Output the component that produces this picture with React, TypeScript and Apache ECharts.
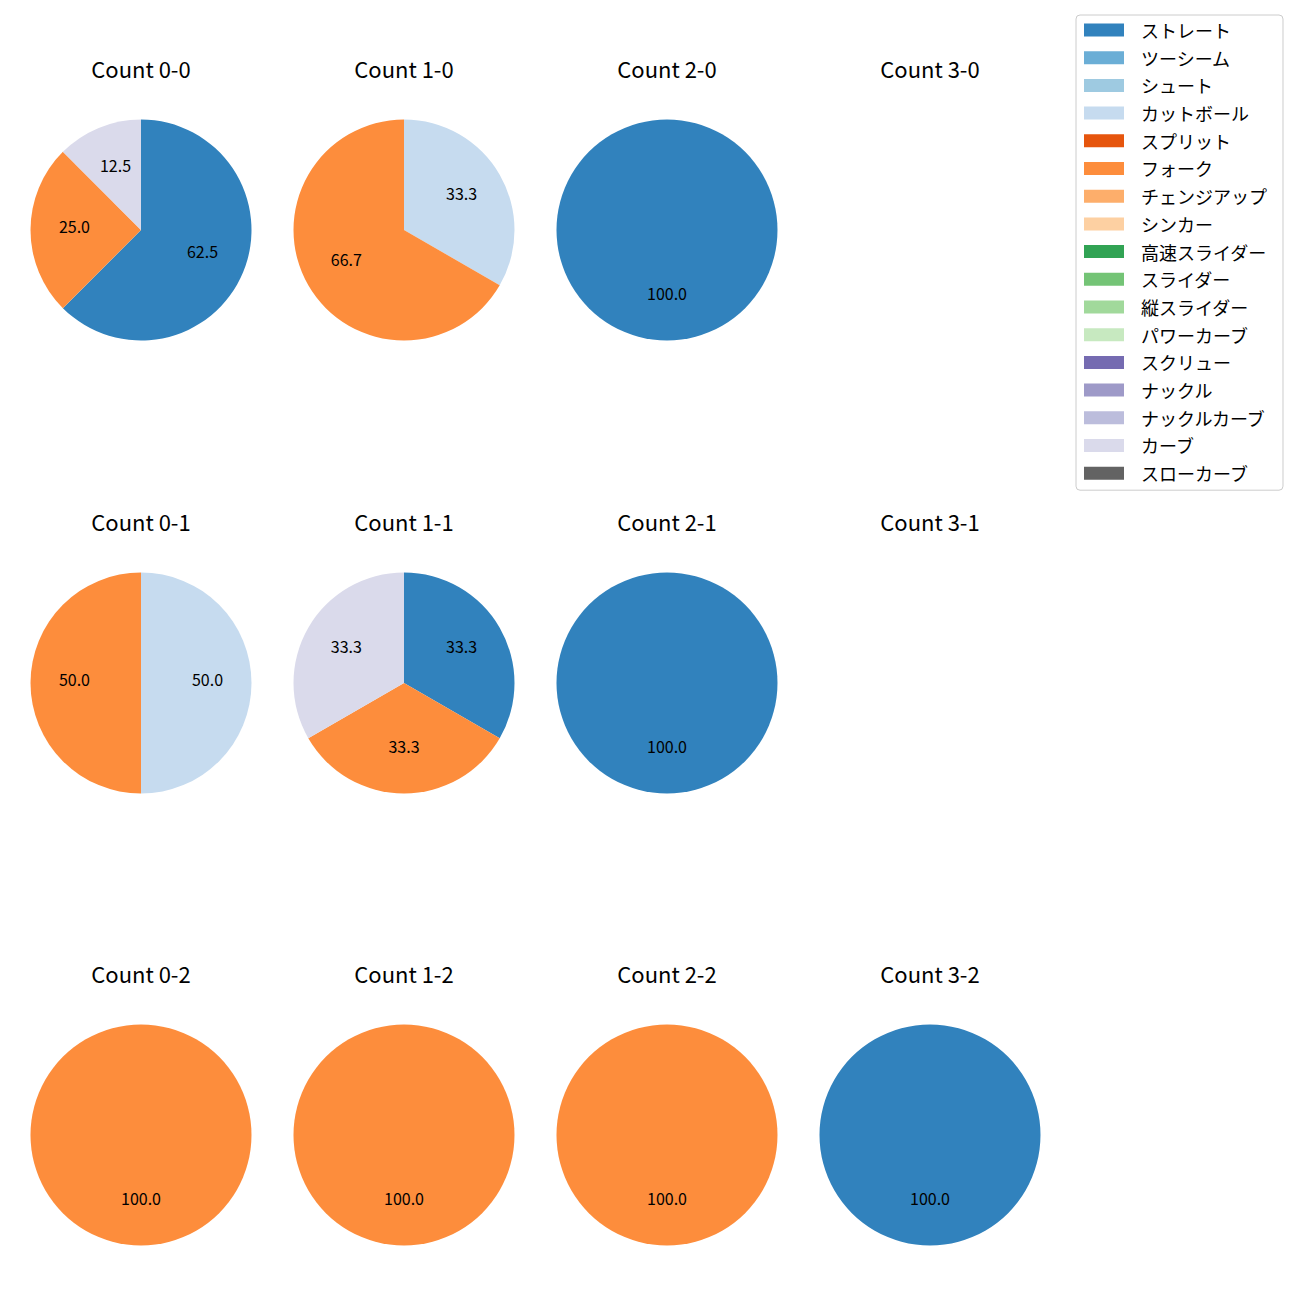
import React, { useEffect, useRef } from "react";
import * as echarts from "echarts";

const categories = [
  "ストレート", "ツーシーム", "シュート", "カットボール", "スプリット", "フォーク",
  "チェンジアップ", "シンカー", "高速スライダー", "スライダー", "縦スライダー",
  "パワーカーブ", "スクリュー", "ナックル", "ナックルカーブ", "カーブ", "スローカーブ",
];
const colors = [
  "#3182bd", "#6baed6", "#9ecae1", "#c6dbef", "#e6550d", "#fd8d3c",
  "#fdae6b", "#fdd0a2", "#31a354", "#74c476", "#a1d99b", "#c7e9c0",
  "#756bb1", "#9e9ac8", "#bcbddc", "#dadaeb", "#636363",
];

// counts per pitch category (order = categories)
const count00 = [5, 0, 0, 0, 0, 2, 0, 0, 0, 0, 0, 0, 0, 0, 0, 1, 0];
const count10 = [0, 0, 0, 1, 0, 2, 0, 0, 0, 0, 0, 0, 0, 0, 0, 0, 0];
const count20 = [1, 0, 0, 0, 0, 0, 0, 0, 0, 0, 0, 0, 0, 0, 0, 0, 0];
const count30 = [0, 0, 0, 0, 0, 0, 0, 0, 0, 0, 0, 0, 0, 0, 0, 0, 0];
const count01 = [0, 0, 0, 1, 0, 1, 0, 0, 0, 0, 0, 0, 0, 0, 0, 0, 0];
const count11 = [1, 0, 0, 0, 0, 1, 0, 0, 0, 0, 0, 0, 0, 0, 0, 1, 0];
const count21 = [1, 0, 0, 0, 0, 0, 0, 0, 0, 0, 0, 0, 0, 0, 0, 0, 0];
const count31 = [0, 0, 0, 0, 0, 0, 0, 0, 0, 0, 0, 0, 0, 0, 0, 0, 0];
const count02 = [0, 0, 0, 0, 0, 1, 0, 0, 0, 0, 0, 0, 0, 0, 0, 0, 0];
const count12 = [0, 0, 0, 0, 0, 1, 0, 0, 0, 0, 0, 0, 0, 0, 0, 0, 0];
const count22 = [0, 0, 0, 0, 0, 1, 0, 0, 0, 0, 0, 0, 0, 0, 0, 0, 0];
const count32 = [1, 0, 0, 0, 0, 0, 0, 0, 0, 0, 0, 0, 0, 0, 0, 0, 0];

const panels = [
  { title: "Count 0-0", data: count00, col: 0, row: 0 },
  { title: "Count 1-0", data: count10, col: 1, row: 0 },
  { title: "Count 2-0", data: count20, col: 2, row: 0 },
  { title: "Count 3-0", data: count30, col: 3, row: 0 },
  { title: "Count 0-1", data: count01, col: 0, row: 1 },
  { title: "Count 1-1", data: count11, col: 1, row: 1 },
  { title: "Count 2-1", data: count21, col: 2, row: 1 },
  { title: "Count 3-1", data: count31, col: 3, row: 1 },
  { title: "Count 0-2", data: count02, col: 0, row: 2 },
  { title: "Count 1-2", data: count12, col: 1, row: 2 },
  { title: "Count 2-2", data: count22, col: 2, row: 2 },
  { title: "Count 3-2", data: count32, col: 3, row: 2 },
];

const FONT = "'Noto Sans CJK JP', 'Noto Sans', sans-serif";
const colX = [141, 404, 667, 930];
const rowY = [230, 683, 1135];
const R = 110.5;

export default function App() {
  const ref = useRef<HTMLDivElement>(null);
  useEffect(() => {
    document.body.style.margin = "0";
    const chart = echarts.init(ref.current!, null, { renderer: "svg" });
    const series: any[] = [];
    // hidden series supplying legend entries/colours
    series.push({
      type: "pie",
      name: "legend",
      radius: [0, 0],
      center: [-100, -100],
      silent: true,
      label: { show: false },
      labelLine: { show: false },
      data: categories.map((c, i) => ({ name: c, value: 1, itemStyle: { color: colors[i] } })),
    });
    const titles: any[] = [];
    panels.forEach((p) => {
      const cx = colX[p.col];
      const cy = rowY[p.row];
      titles.push({
        text: p.title,
        left: cx,
        top: cy - R - 63,
        padding: 0,
        textAlign: "center",
        textStyle: { fontFamily: FONT, fontSize: 22, fontWeight: "normal", color: "#000" },
      });
      const items = p.data
        .map((v, i) => ({ name: categories[i], value: v, itemStyle: { color: colors[i] } }))
        .filter((d) => d.value > 0);
      if (!items.length) return;
      series.push({
        type: "pie",
        center: [cx, cy],
        radius: [0, R],
        startAngle: 90,
        clockwise: true,
        silent: true,
        label: { show: false },
        labelLine: { show: false },
        itemStyle: { borderWidth: 0 },
        emphasis: { disabled: true },
        data: items,
      });
      series.push({
        type: "pie",
        center: [cx, cy],
        radius: [R * 0.15, R],
        startAngle: 90,
        clockwise: true,
        silent: true,
        labelLine: { show: false },
        itemStyle: { color: "rgba(0,0,0,0)", borderWidth: 0 },
        emphasis: { disabled: true },
        label: {
          show: true,
          position: "inside",
          fontFamily: FONT,
          fontSize: 16,
          color: "#000",
          offset: [0, -4],
          formatter: (prm: any) => (prm.percent as number).toFixed(1),
        },
        data: items.map((d) => ({ name: d.name, value: d.value })),
      });
    });
    chart.setOption({
      animation: false,
      backgroundColor: "#fff",
      title: titles,
      legend: {
        orient: "vertical",
        left: 1076,
        top: 15,
        padding: [6, 16, 8, 8],
        itemWidth: 40,
        itemHeight: 13,
        itemGap: 9.7,
        borderColor: "#cccccc",
        borderWidth: 1,
        borderRadius: 4,
        selectedMode: false,
        icon: "rect",
        data: categories,
        textStyle: {
          fontFamily: FONT,
          fontSize: 18,
          color: "#000",
          lineHeight: 14,
          padding: [0, 0, 0, 12],
        },
      },
      series,
    });
    return () => chart.dispose();
  }, []);
  return <div ref={ref} style={{ width: 1300, height: 1300 }} />;
}
